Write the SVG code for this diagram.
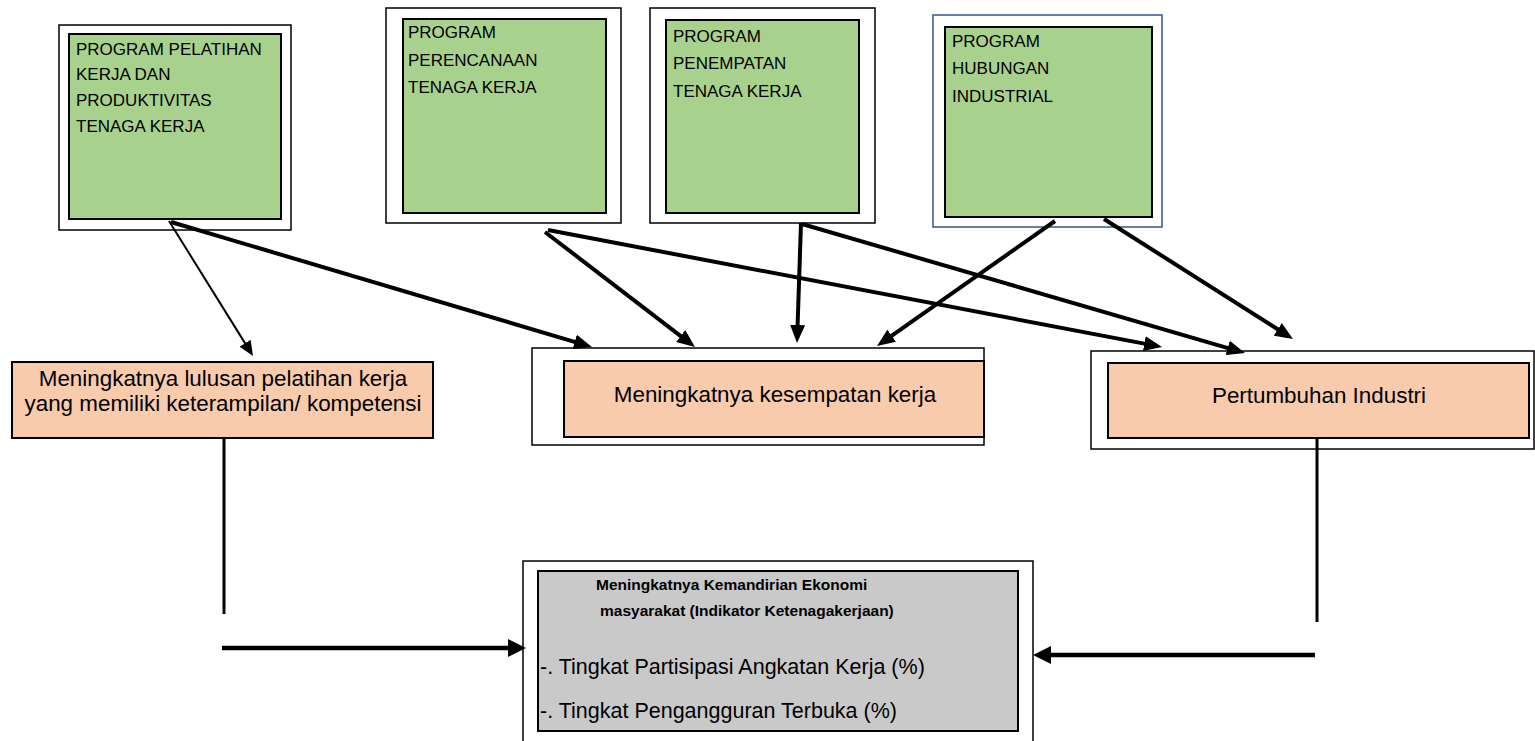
<svg xmlns="http://www.w3.org/2000/svg" width="1535" height="741" viewBox="0 0 1535 741">
<style>
.frame{fill:#fff;stroke:#000;stroke-width:1.5}
.frameb{fill:#fff;stroke:#2F5597;stroke-width:1.5}
.green{fill:#A9D18E;stroke:#000;stroke-width:2}
.orange{fill:#F8CBAD;stroke:#000;stroke-width:2}
.grey{fill:#C9C9C9;stroke:#000;stroke-width:2}
text{font-family:"Liberation Sans",Arial,sans-serif;fill:#000}
.g{font-size:17px}
.o{font-size:22.4px;text-anchor:middle}
.r{font-size:21.5px}
.b{font-size:15.5px;font-weight:bold}
.thin{stroke:#000;stroke-width:2;fill:none}
.thick{stroke:#000;stroke-width:4;fill:none}
.plain{stroke:#000;stroke-width:3;fill:none}
.hz{stroke:#000;stroke-width:4.5;fill:none}
</style>
<defs>
<marker id="ah" markerUnits="userSpaceOnUse" markerWidth="18" markerHeight="15" refX="12" refY="7.5" orient="auto"><path d="M0,0 L18,7.5 L0,15 z" fill="#000"/></marker>
<marker id="ahs" markerUnits="userSpaceOnUse" markerWidth="15" markerHeight="13" refX="11" refY="6.5" orient="auto"><path d="M0,0 L15,6.5 L0,13 z" fill="#000"/></marker>
<marker id="ahl" markerUnits="userSpaceOnUse" markerWidth="18" markerHeight="18" refX="12" refY="9" orient="auto"><path d="M0,0 L18,9 L0,18 z" fill="#000"/></marker>
</defs>
<rect width="1535" height="741" fill="#fff"/>

<g id="program-pelatihan">
<rect class="frame" x="59" y="25" width="232" height="205"/>
<rect class="green" x="69" y="34" width="212" height="185"/>
<text class="g" x="76" y="55">PROGRAM PELATIHAN</text>
<text class="g" x="76" y="80">KERJA DAN</text>
<text class="g" x="76" y="106">PRODUKTIVITAS</text>
<text class="g" x="76" y="132">TENAGA KERJA</text>
</g>

<g id="program-perencanaan">
<rect class="frame" x="386" y="8" width="235" height="215"/>
<rect class="green" x="403" y="19" width="203" height="194"/>
<text class="g" x="408" y="38">PROGRAM</text>
<text class="g" x="408" y="66">PERENCANAAN</text>
<text class="g" x="408" y="93">TENAGA KERJA</text>
</g>

<g id="program-penempatan">
<rect class="frame" x="650" y="8" width="225" height="215"/>
<rect class="green" x="666" y="20" width="193" height="193"/>
<text class="g" x="673" y="42">PROGRAM</text>
<text class="g" x="673" y="69">PENEMPATAN</text>
<text class="g" x="673" y="97">TENAGA KERJA</text>
</g>

<g id="program-hubungan">
<rect class="frameb" x="933" y="15" width="229" height="212"/>
<rect class="green" x="945" y="27" width="207" height="190"/>
<text class="g" x="952" y="47">PROGRAM</text>
<text class="g" x="952" y="74">HUBUNGAN</text>
<text class="g" x="952" y="102">INDUSTRIAL</text>
</g>

<g id="lulusan">
<rect class="orange" x="12" y="362" width="421" height="76"/>
<text class="o" x="223" y="386">Meningkatnya lulusan pelatihan kerja</text>
<text class="o" x="223" y="411">yang memiliki keterampilan/ kompetensi</text>
</g>

<g id="kesempatan">
<rect class="frame" x="532" y="348" width="452" height="97"/>
<rect class="orange" x="564" y="361" width="420" height="76"/>
<text class="o" x="775" y="402">Meningkatnya kesempatan kerja</text>
</g>

<g id="pertumbuhan">
<rect class="frame" x="1091" y="351" width="443" height="98"/>
<rect class="orange" x="1108" y="363" width="421" height="75"/>
<text class="o" x="1319" y="403">Pertumbuhan Industri</text>
</g>

<g id="kemandirian">
<rect class="frame" x="523" y="561" width="510" height="200"/>
<rect class="grey" x="538" y="571" width="480" height="160"/>
<text class="b" x="596" y="590">Meningkatnya Kemandirian Ekonomi</text>
<text class="b" x="600" y="616">masyarakat (Indikator Ketenagakerjaan)</text>
<text class="r" x="540" y="674">-. Tingkat Partisipasi Angkatan Kerja (%)</text>
<text class="r" x="540" y="718">-. Tingkat Pengangguran Terbuka (%)</text>
</g>

<g id="connectors">
<line class="thin" x1="169" y1="221" x2="250.9" y2="352.6" marker-end="url(#ahs)"/>
<line class="thick" x1="171" y1="222" x2="586.2" y2="345.3" marker-end="url(#ah)"/>
<line class="thick" x1="545" y1="232" x2="690.2" y2="343.3" marker-end="url(#ah)"/>
<line class="thick" x1="548" y1="230" x2="1156.1" y2="345.9" marker-end="url(#ah)"/>
<line class="thick" x1="801" y1="223" x2="797.2" y2="337" marker-end="url(#ah)"/>
<line class="thick" x1="802" y1="224" x2="1239.2" y2="351.3" marker-end="url(#ah)"/>
<line class="thick" x1="1055" y1="221" x2="881.9" y2="342.6" marker-end="url(#ah)"/>
<line class="thick" x1="1104" y1="219" x2="1287.9" y2="335.8" marker-end="url(#ah)"/>
<line class="plain" x1="224" y1="438" x2="224" y2="614"/>
<line class="hz" x1="222" y1="648" x2="520" y2="648" marker-end="url(#ahl)"/>
<line class="plain" x1="1317" y1="438" x2="1317" y2="622"/>
<line class="hz" x1="1315" y1="655" x2="1039" y2="655" marker-end="url(#ahl)"/>
</g>
</svg>
